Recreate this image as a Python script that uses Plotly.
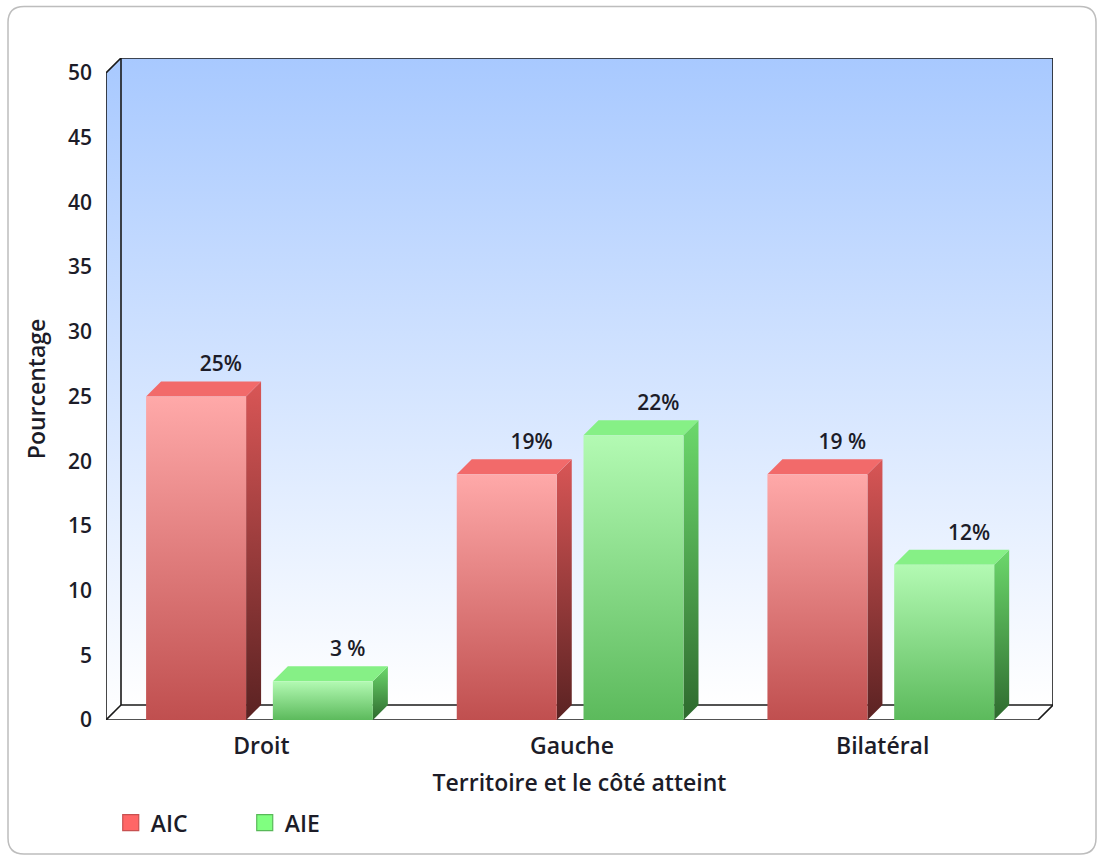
import plotly.graph_objects as go

# ---- data ----
categories = ["Droit", "Gauche", "Bilatéral"]
series_names = ["AIC", "AIE"]
aic_values = [25, 19, 19]
aie_values = [3, 22, 12]
aic_labels = ["25%", "19%", "19 %"]
aie_labels = ["3 %", "22%", "12%"]
y_ticks = [0, 5, 10, 15, 20, 25, 30, 35, 40, 45, 50]

# ---- 3D geometry (in axis units) ----
PX_X = 932 / 3          # pixels per category
PX_Y = 647 / 50         # pixels per percent
DX = 15 / PX_X          # depth offset along x
DY = 15 / PX_Y          # depth offset along y
BAR_W = 100 / PX_X
OFFSETS = [-0.21, 0.198]
X_MIN, X_MAX = -0.5, 2.5 + DX
Y_MIN, Y_MAX = 0, 50 + DY

FONT = "Open Sans, Segoe UI, DejaVu Sans, sans-serif"
TEXT_COLOR = "#1c1c28"

styles = {
    "AIC": dict(front=("#c04f4f", "#ffa9a9"), side=("#5a2222", "#d95656"),
                top="#f26a6a", legend="#ff6666", border="#c85050"),
    "AIE": dict(front=("#5cba5c", "#b3fab3"), side=("#2e6a2e", "#6cd86c"),
                top="#86f086", legend="#80ff80", border="#58b858"),
}

fig = go.Figure()


def poly(xs, ys, color=None, grad=None):
    kw = dict(x=xs + [xs[0]], y=ys + [ys[0]], mode="lines", fill="toself",
              line=dict(width=0), hoverinfo="skip", showlegend=False)
    if grad:
        kw["fillgradient"] = dict(type="vertical",
                                  colorscale=[[0, grad[0]], [1, grad[1]]])
        kw["fillcolor"] = grad[1]
    else:
        kw["fillcolor"] = color
    fig.add_trace(go.Scatter(**kw))


# back wall with blue gradient
poly([X_MIN + DX, X_MAX, X_MAX, X_MIN + DX], [DY, DY, Y_MAX, Y_MAX],
     grad=("#ffffff", "#a8c9ff"))
# left wall
poly([X_MIN, X_MIN + DX, X_MIN + DX, X_MIN], [0, DY, Y_MAX, 50],
     grad=("#ffffff", "#a8c9ff"))
# floor
poly([X_MIN, X_MAX - DX, X_MAX, X_MIN + DX], [0, 0, DY, DY], color="#ffffff")

# frame lines
frame = dict(color="#1a1a1a", width=1.6)
fig.add_trace(go.Scatter(
    x=[X_MIN, X_MIN, X_MIN + DX, X_MAX, X_MAX, X_MIN + DX, X_MIN + DX, None,
       X_MIN, X_MAX - DX, X_MAX, None, X_MIN, X_MIN + DX],
    y=[0, 50, Y_MAX, Y_MAX, DY, DY, Y_MAX, None,
       0, 0, DY, None, 0, DY],
    mode="lines", line=frame, hoverinfo="skip", showlegend=False))

# 3D bars
for s_idx, (name, values, labels) in enumerate(
        zip(series_names, [aic_values, aie_values], [aic_labels, aie_labels])):
    st = styles[name]
    for c_idx, v in enumerate(values):
        xc = c_idx + OFFSETS[s_idx]
        x0, x1 = xc - BAR_W / 2, xc + BAR_W / 2
        # side face
        poly([x1, x1 + DX, x1 + DX, x1], [0, DY, v + DY, v], grad=st["side"])
        # top face
        poly([x0, x1, x1 + DX, x0 + DX], [v, v, v + DY, v + DY], color=st["top"])
        # front face
        poly([x0, x1, x1, x0], [0, 0, v, v], grad=st["front"])
    fig.add_trace(go.Scatter(
        x=[c + OFFSETS[s_idx] + 0.08 for c in range(len(values))],
        y=[v + 2.35 for v in values],
        text=labels, mode="text", textposition="middle center",
        textfont=dict(family=FONT, size=21, color=TEXT_COLOR, weight=600),
        hoverinfo="skip", showlegend=False))

# legend entries
for name in series_names:
    fig.add_trace(go.Scatter(
        x=[None], y=[None], mode="markers", name=name,
        marker=dict(symbol="square", size=16, color=styles[name]["legend"],
                    line=dict(color=styles[name]["border"], width=1.2))))

# rounded card border (paper coordinates from pixel positions)
L, T, W, H = 106, 58.4, 947, 661.6


def px(x, y):
    return (x - L) / W, 1 - (y - T) / H


def card_path(x0, y0, x1, y1, r):
    pts = []
    pts.append("M {} {}".format(*px(x0 + r, y0)))
    pts.append("L {} {}".format(*px(x1 - r, y0)))
    pts.append("Q {} {} {} {}".format(*px(x1, y0), *px(x1, y0 + r)))
    pts.append("L {} {}".format(*px(x1, y1 - r)))
    pts.append("Q {} {} {} {}".format(*px(x1, y1), *px(x1 - r, y1)))
    pts.append("L {} {}".format(*px(x0 + r, y1)))
    pts.append("Q {} {} {} {}".format(*px(x0, y1), *px(x0, y1 - r)))
    pts.append("L {} {}".format(*px(x0, y0 + r)))
    pts.append("Q {} {} {} {}".format(*px(x0, y0), *px(x0 + r, y0)))
    return " ".join(pts) + " Z"


fig.add_shape(type="path", xref="paper", yref="paper",
              path=card_path(8, 7, 1096, 854, 16),
              line=dict(color="#bdbdbd", width=1.5), layer="below")

txt = dict(family=FONT, size=23, color=TEXT_COLOR, weight=600)
tick_y = dict(family=FONT, size=21, color=TEXT_COLOR, weight=600)

fig.update_layout(
    width=1100, height=858,
    margin=dict(l=106, r=47, t=58, b=138),
    paper_bgcolor="white", plot_bgcolor="rgba(0,0,0,0)",
    font=txt,
    hovermode=False,
    showlegend=True,
    legend=dict(orientation="h", x=0.005, xanchor="left", y=-0.155,
                yanchor="middle", font=txt,
                entrywidth=89, entrywidthmode="pixels",
                bgcolor="rgba(0,0,0,0)", itemclick=False, itemdoubleclick=False),
    xaxis=dict(range=[X_MIN, X_MAX], showgrid=False, zeroline=False,
               tickmode="array", tickvals=list(range(len(categories))),
               ticktext=categories, ticks="", ticklabelstandoff=10,
               tickfont=txt,
               title=dict(text="Territoire et le côté atteint", standoff=14,
                          font=txt),
               fixedrange=True),
    yaxis=dict(range=[Y_MIN, Y_MAX], showgrid=False, zeroline=False,
               tickmode="array", tickvals=y_ticks, ticks="",
               ticklabelstandoff=13,
               tickfont=tick_y,
               title=dict(text="Pourcentage", standoff=15, font=txt),
               fixedrange=True),
)

fig.write_html("out.html", config=dict(displayModeBar=False))
